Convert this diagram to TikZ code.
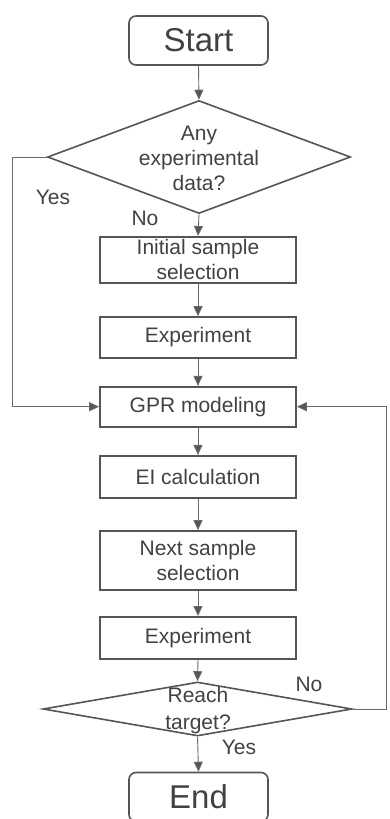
\documentclass[tikz,border=0pt]{standalone}
\usepackage{fontspec}
\setmainfont{Liberation Sans}
\usetikzlibrary{arrows.meta,shapes.geometric}
\definecolor{linec}{HTML}{555555}
\definecolor{connc}{HTML}{6A6A6A}
\definecolor{textc}{HTML}{424242}
\begin{document}
\begin{tikzpicture}[x=1pt,y=-1pt,
  every node/.style={text=textc,font=\fontsize{21}{25}\selectfont},
  term/.style={draw=linec,line width=1.6pt,rounded corners=7pt,minimum width=139pt,minimum height=49pt,inner sep=0pt,font=\fontsize{33}{38}\selectfont},
  proc/.style={draw=linec,line width=1.6pt,minimum width=196pt,inner sep=0pt,align=center},
  decision/.style={draw=linec,line width=1.6pt,diamond,inner sep=0pt},
  conn/.style={draw=connc,line width=0.9pt,-{Triangle[length=10pt,width=9pt,fill=linec]}},
  lbl/.style={inner sep=0pt}
]
\useasboundingbox (0,0) rectangle (390,819);
\clip (0,0) rectangle (390,819);
\fill[white] (0,0) rectangle (390,819);

\node[term] (start) at (198.5,40.5) {Start};
\node[decision,minimum width=303pt,minimum height=113pt] (d1) at (199,157) {};
\node[align=center,inner sep=0pt] (d1t) at (199,158) {Any\\experimental\\data?};
\node[proc,minimum height=46pt] (init) at (198,259.7) {Initial sample\\selection};
\node[proc,minimum height=41pt] (exp1) at (198,337.5) {Experiment};
\node[proc,minimum height=40pt] (gpr) at (198,406.7) {GPR modeling};
\node[proc,minimum height=42pt] (ei) at (198,476.7) {EI calculation};
\node[proc,minimum height=59pt] (next) at (198,560.5) {Next sample\\selection};
\node[proc,minimum height=42pt] (exp2) at (198,637.8) {Experiment};
\node[decision,minimum width=309pt,minimum height=54pt] (d2) at (197.5,709) {};
\node[align=center,inner sep=0pt,font=\fontsize{21}{27}\selectfont] (d2t) at (198,711) {Reach\\target?};
\node[term] (end) at (198.5,797) {End};

\coordinate (yesx) at (12.5,0);
\coordinate (nox) at (386.7,0);

\node[lbl] (yes1) at (53,197) {Yes};
\node[lbl] (no1) at (145,218) {No};
\node[lbl] (no2) at (309,684) {No};
\node[lbl] (yes2) at (239,747) {Yes};

\draw[conn] (start.south) -- (d1.north);
\draw[conn] (d1.south) -- (init.north);
\draw[conn] (init.south) -- (exp1.north);
\draw[conn] (exp1.south) -- (gpr.north);
\draw[conn] (gpr.south) -- (ei.north);
\draw[conn] (ei.south) -- (next.north);
\draw[conn] (next.south) -- (exp2.north);
\draw[conn] (exp2.south) -- (d2.north);
\draw[conn] (d2.south) -- (end.north);
\draw[conn] (d1.west) -- (d1.west -| yesx) |- (gpr.west);
\draw[conn] (d2.east) -- (d2.east -| nox) |- (gpr.east);
\end{tikzpicture}
\end{document}
